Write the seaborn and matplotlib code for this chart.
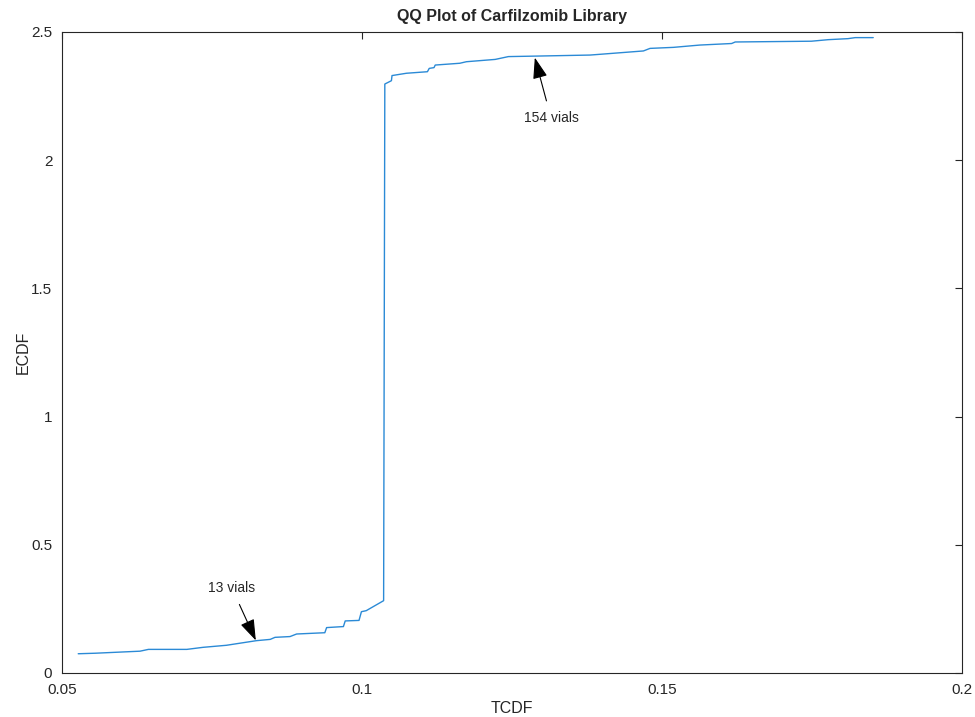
import matplotlib
matplotlib.use('Agg')
import matplotlib.pyplot as plt
import seaborn as sns
import pandas as pd

# points
tcdf = [0.0527, 0.0555, 0.0630, 0.0644, 0.0708, 0.0735, 0.0774, 0.0824, 0.0847,
        0.0855, 0.0880, 0.0891, 0.0938, 0.0941, 0.0969, 0.0972, 0.0995, 0.0999,
        0.1007, 0.1036, 0.1038, 0.1049, 0.1050, 0.1074, 0.1109, 0.1112, 0.1120,
        0.1122, 0.1163, 0.1174, 0.1222, 0.1244, 0.1291, 0.1380, 0.1397, 0.1469,
        0.1480, 0.1519, 0.1563, 0.1616, 0.1622, 0.1749, 0.1777, 0.1810, 0.1822,
        0.1852]
ecdf = [0.075, 0.077, 0.085, 0.092, 0.092, 0.100, 0.108, 0.126, 0.131,
        0.139, 0.142, 0.152, 0.157, 0.177, 0.181, 0.203, 0.205, 0.239,
        0.243, 0.282, 2.297, 2.310, 2.330, 2.339, 2.345, 2.358, 2.361,
        2.371, 2.378, 2.384, 2.393, 2.404, 2.406, 2.410, 2.413, 2.426,
        2.436, 2.440, 2.449, 2.455, 2.461, 2.464, 2.470, 2.474, 2.478,
        2.478]

labels = ['13 vials', '154 vials']
label_xy = [(0.0783, 0.332), (0.1315, 2.165)]
arrow_tip = [(0.0823, 0.127), (0.1288, 2.400)]

sns.set_style('white')
plt.rcParams['font.family'] = ['Liberation Sans', 'DejaVu Sans']

df = pd.DataFrame({'TCDF': tcdf, 'ECDF': ecdf})

fig = plt.figure(figsize=(9.75, 7.17), dpi=100)
ax = fig.add_axes([0.0636, 0.0614, 0.9231, 0.894])
sns.lineplot(data=df, x='TCDF', y='ECDF', sort=False, estimator=None,
             color='#2b8ad6', linewidth=1.0, ax=ax)

for txt, pos, tip in zip(labels, label_xy, arrow_tip):
    ax.annotate(txt, xy=tip, xytext=pos, ha='center', va='center', fontsize=10,
                color='#262626',
                arrowprops=dict(arrowstyle='-|>,head_length=1.3,head_width=0.45',
                                color='black', lw=0.8, shrinkA=5, shrinkB=0))

ax.set_xlim(0.05, 0.2)
ax.set_ylim(0, 2.5)
ax.set_xticks([0.05, 0.1, 0.15, 0.2])
ax.set_xticklabels(['0.05', '0.1', '0.15', '0.2'])
ax.set_yticks([0, 0.5, 1, 1.5, 2, 2.5])
ax.set_yticklabels(['0', '0.5', '1', '1.5', '2', '2.5'])
ax.tick_params(direction='in', length=5, width=0.8, top=True, right=True, pad=7,
               labelsize=11, colors='#262626', labelcolor='#262626')
for s in ax.spines.values():
    s.set_color('#262626')
    s.set_linewidth(0.8)
ax.set_xlabel('TCDF', fontsize=11.5, color='#262626', labelpad=3)
ax.set_ylabel('ECDF', fontsize=11.5, color='#262626', labelpad=0)
ax.set_title('QQ Plot of Carfilzomib Library', fontsize=11.5, fontweight='bold', pad=8)

plt.savefig('out.png', dpi=100)
plt.close()
